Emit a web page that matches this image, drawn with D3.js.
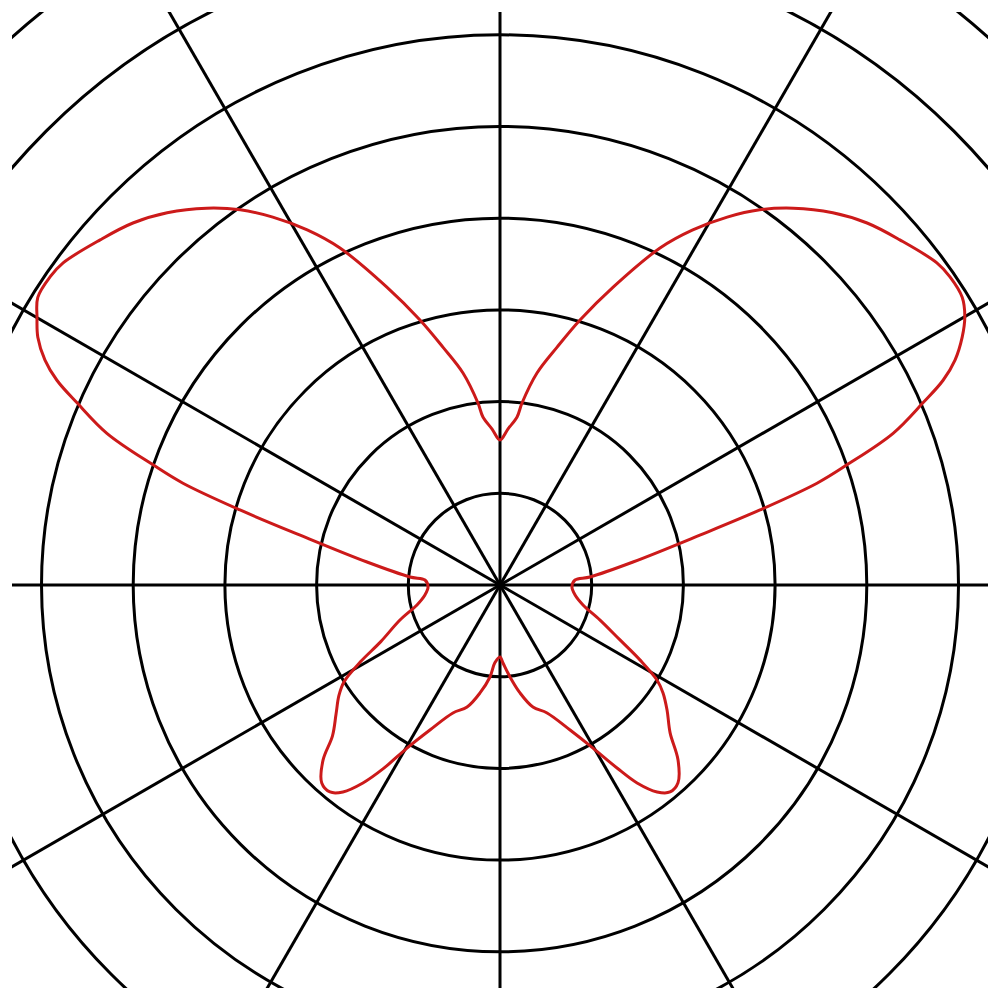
<!DOCTYPE html>
<html>
<head>
<meta charset="utf-8">
<script src="https://cdn.jsdelivr.net/npm/d3@7"></script>
<style>
html,body{margin:0;padding:0;background:#fff;}
svg{display:block;}
</style>
</head>
<body>
<div id="chart"></div>
<script>
// Grid definition
const ringValues = [1, 2, 3, 4, 5, 6, 7, 8];
const spokeAngles = [0, 30, 60, 90, 120, 150, 180, 210, 240, 270, 300, 330];

// Curve: polar angle (degrees, counter-clockwise from +x) and radius (ring units)
const curveAngles = [
  -90, -87.8, -83.8, -79.5, -74.9, -69.8, -64.2, -60.3, -57.4, -55.3, -52.8, -50.6,
  -48.0, -44.5, -41.0, -36.8, -33.5, -31.2, -28.2, -24.6, -19.3, -13.5, -7.6, -1.6,
  3.8, 5.1, 9.8, 14.0, 16.1, 17.8, 19.1, 21.1, 23.3, 24.8, 26.3, 28.2, 30.0, 31.9,
  34.4, 36.4, 40.8, 44.6, 48.2, 52.1, 55.3, 58.3, 61.5, 64.6, 69.2, 73.2, 76.5,
  80.1, 83.1, 84.2, 87.1, 90,
  92.9, 95.8, 96.9, 99.9, 103.5, 106.8, 110.8, 115.4, 118.5, 121.7, 124.7, 127.9, 131.8,
  135.4, 139.2, 143.6, 145.6, 148.1, 150.0, 151.8, 153.7, 155.2, 156.7, 158.9,
  160.9, 162.2, 163.9, 166.0, 170.2, 174.9, 176.2, 181.6, 187.6, 193.5, 199.3,
  205.4, 208.8, 211.8, 214.5, 218.2, 222.0, 224.7, 228.0, 230.6, 232.8, 235.3,
  237.6, 240.3, 244.2, 249.8, 254.9, 259.5, 263.8, 266.2
];
const curveRadii = [
  0.785, 0.851, 1.009, 1.197, 1.378, 1.487, 1.756, 2.047, 2.369, 2.626, 2.833, 2.921,
  2.901, 2.722, 2.458, 2.275, 2.132, 2.001, 1.734, 1.439, 1.156, 0.931, 0.826, 0.785,
  0.820, 0.986, 1.472, 2.246, 2.951, 3.631, 4.004, 4.595, 5.022, 5.323, 5.535, 5.719,
  5.853, 5.937, 5.947, 5.919, 5.760, 5.622, 5.445, 5.207, 4.976, 4.715, 4.406, 4.068,
  3.475, 3.019, 2.668, 2.347, 1.999, 1.842, 1.703, 1.581,
  1.703, 1.842, 1.999, 2.347, 2.668, 3.019, 3.475, 4.068, 4.406, 4.715, 4.976, 5.207, 5.445,
  5.622, 5.760, 5.919, 5.947, 5.937, 5.830, 5.719, 5.535, 5.323, 5.022, 4.595,
  4.004, 3.631, 2.951, 2.246, 1.472, 0.986, 0.820, 0.785, 0.826, 0.931, 1.156,
  1.439, 1.734, 2.001, 2.132, 2.275, 2.458, 2.715, 2.905, 2.921, 2.833, 2.626,
  2.369, 2.047, 1.756, 1.487, 1.378, 1.197, 1.009, 0.851
];

const W = 1000, H = 1000;
const cx = 500, cy = 585;
const clip = {x: 12, y: 12, w: 976, h: 976};

const r = d3.scaleLinear().domain([0, 8]).range([0, 733.6]);
const toRad = deg => (90 - deg) * Math.PI / 180;

const svg = d3.select("#chart").append("svg")
  .attr("width", W).attr("height", H);

svg.append("defs").append("clipPath").attr("id", "plotclip")
  .append("rect").attr("x", clip.x).attr("y", clip.y)
  .attr("width", clip.w).attr("height", clip.h);

const g = svg.append("g").attr("clip-path", "url(#plotclip)")
  .append("g").attr("transform", `translate(${cx},${cy})`);

// rings
g.selectAll("circle.ring").data(ringValues).join("circle")
  .attr("class", "ring")
  .attr("r", d => r(d))
  .attr("fill", "none")
  .attr("stroke", "#000")
  .attr("stroke-width", 3);

// spokes
const spokeLine = d3.lineRadial()
  .angle(d => toRad(d[0]))
  .radius(d => r(d[1]));
g.selectAll("path.spoke").data(spokeAngles).join("path")
  .attr("class", "spoke")
  .attr("d", a => spokeLine([[a, 0], [a, 12]]))
  .attr("fill", "none")
  .attr("stroke", "#000")
  .attr("stroke-width", 3);

// curve
const pts = curveAngles.map((a, i) => [a, curveRadii[i]]);
const curveLine = d3.lineRadial()
  .angle(d => toRad(d[0]))
  .radius(d => r(d[1]))
  .curve(d3.curveCatmullRomClosed.alpha(0.5));
g.append("path")
  .attr("d", curveLine(pts))
  .attr("fill", "none")
  .attr("stroke", "#cc1a1a")
  .attr("stroke-width", 3)
  .attr("stroke-linejoin", "round");
</script>
</body>
</html>
